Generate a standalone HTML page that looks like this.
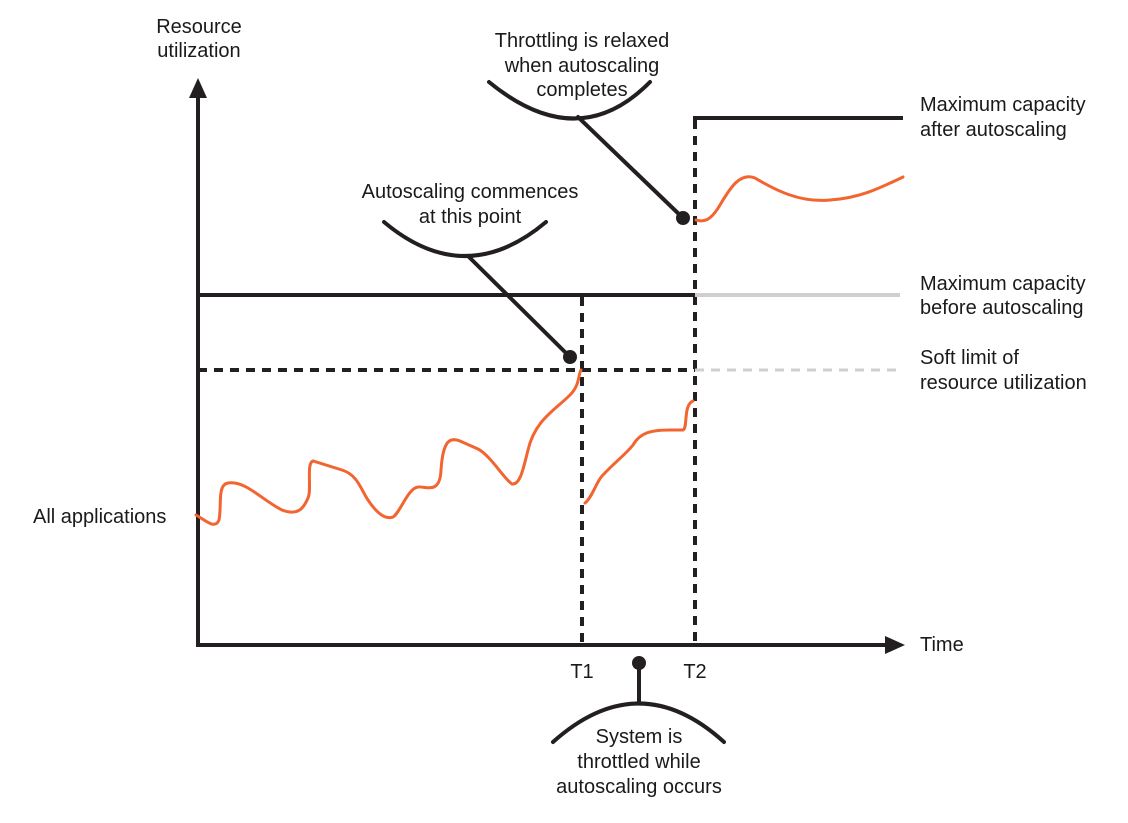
<!DOCTYPE html>
<html><head><style>
body{margin:0;background:#fff;}
text{font-family:"Liberation Sans",sans-serif;font-size:20px;fill:#1a1a1a;}
</style></head><body>
<svg width="1128" height="818" viewBox="0 0 1128 818" xmlns="http://www.w3.org/2000/svg">
<g stroke="#231f20" stroke-width="4" fill="none">
<line x1="198" y1="95" x2="198" y2="647"/>
<line x1="196" y1="645" x2="890" y2="645"/>
<line x1="198" y1="295" x2="695" y2="295"/>
<line x1="198" y1="370" x2="695" y2="370" stroke-dasharray="9,7"/>
<line x1="582" y1="297" x2="582" y2="645" stroke-dasharray="9,7"/>
<line x1="695" y1="120" x2="695" y2="645" stroke-dasharray="9,7"/>
<polyline points="695,120 695,118 903,118"/>
</g>
<line x1="695" y1="295" x2="900" y2="295" stroke="#cfcfcf" stroke-width="4"/>
<line x1="695" y1="370" x2="900" y2="370" stroke="#cfcfcf" stroke-width="3" stroke-dasharray="9,7"/>
<polygon points="198,78 189,98 207,98" fill="#231f20"/>
<polygon points="905,645 885,636 885,654" fill="#231f20"/>
<g stroke="#f26430" stroke-width="3" fill="none" stroke-linecap="round">
<path d="M196,515 C205,520 215,530 219,520 C222,505 217,485 228,483 C245,480 262,500 282,510 C300,517 305,505 308,498 C312,490 306,463 313,461 L342,470 C358,475 361,490 368,500 C376,512 385,520 393,517 C400,513 408,488 418,487 C426,486 440,495 441,470 C443,440 450,437 460,441 L478,449 C490,455 505,480 512,484 C520,485 523,470 528,450 C535,420 555,410 570,395 C580,385 578,375 581,370"/>
<path d="M585,503 C592,498 597,480 603,475 C615,462 625,455 633,445 C640,433 650,430 670,430 L683,430 C688,428 683,405 693,401"/>
<path d="M696,220 C703,222 710,222 720,205 C730,188 740,172 755,178 C775,190 800,203 830,200 C860,198 880,188 903,177"/>
</g>
<g stroke="#231f20" stroke-width="4" fill="none" stroke-linecap="round">
<path d="M489,82 Q578,155 650,82"/>
<line x1="578" y1="117" x2="683" y2="218"/>
<path d="M384,222 Q465,290 546,222"/>
<line x1="468" y1="256" x2="570" y2="357"/>
<line x1="639" y1="663" x2="639" y2="702"/>
<path d="M553,742 Q639,665 724,742"/>
</g>
<circle cx="683" cy="218" r="7" fill="#231f20"/>
<circle cx="570" cy="357" r="7" fill="#231f20"/>
<circle cx="639" cy="663" r="7" fill="#231f20"/>
<g text-anchor="middle">
<text x="199" y="33">Resource</text>
<text x="199" y="57">utilization</text>
<text x="582" y="47">Throttling is relaxed</text>
<text x="582" y="72">when autoscaling</text>
<text x="582" y="96">completes</text>
<text x="470" y="198">Autoscaling commences</text>
<text x="470" y="223">at this point</text>
<text x="582" y="678">T1</text>
<text x="695" y="678">T2</text>
<text x="639" y="743">System is</text>
<text x="639" y="768">throttled while</text>
<text x="639" y="793">autoscaling occurs</text>
</g>
<text x="920" y="111">Maximum capacity</text>
<text x="920" y="136">after autoscaling</text>
<text x="920" y="290">Maximum capacity</text>
<text x="920" y="314">before autoscaling</text>
<text x="920" y="364">Soft limit of</text>
<text x="920" y="389">resource utilization</text>
<text x="33" y="523">All applications</text>
<text x="920" y="651">Time</text>
</svg>
</body></html>
